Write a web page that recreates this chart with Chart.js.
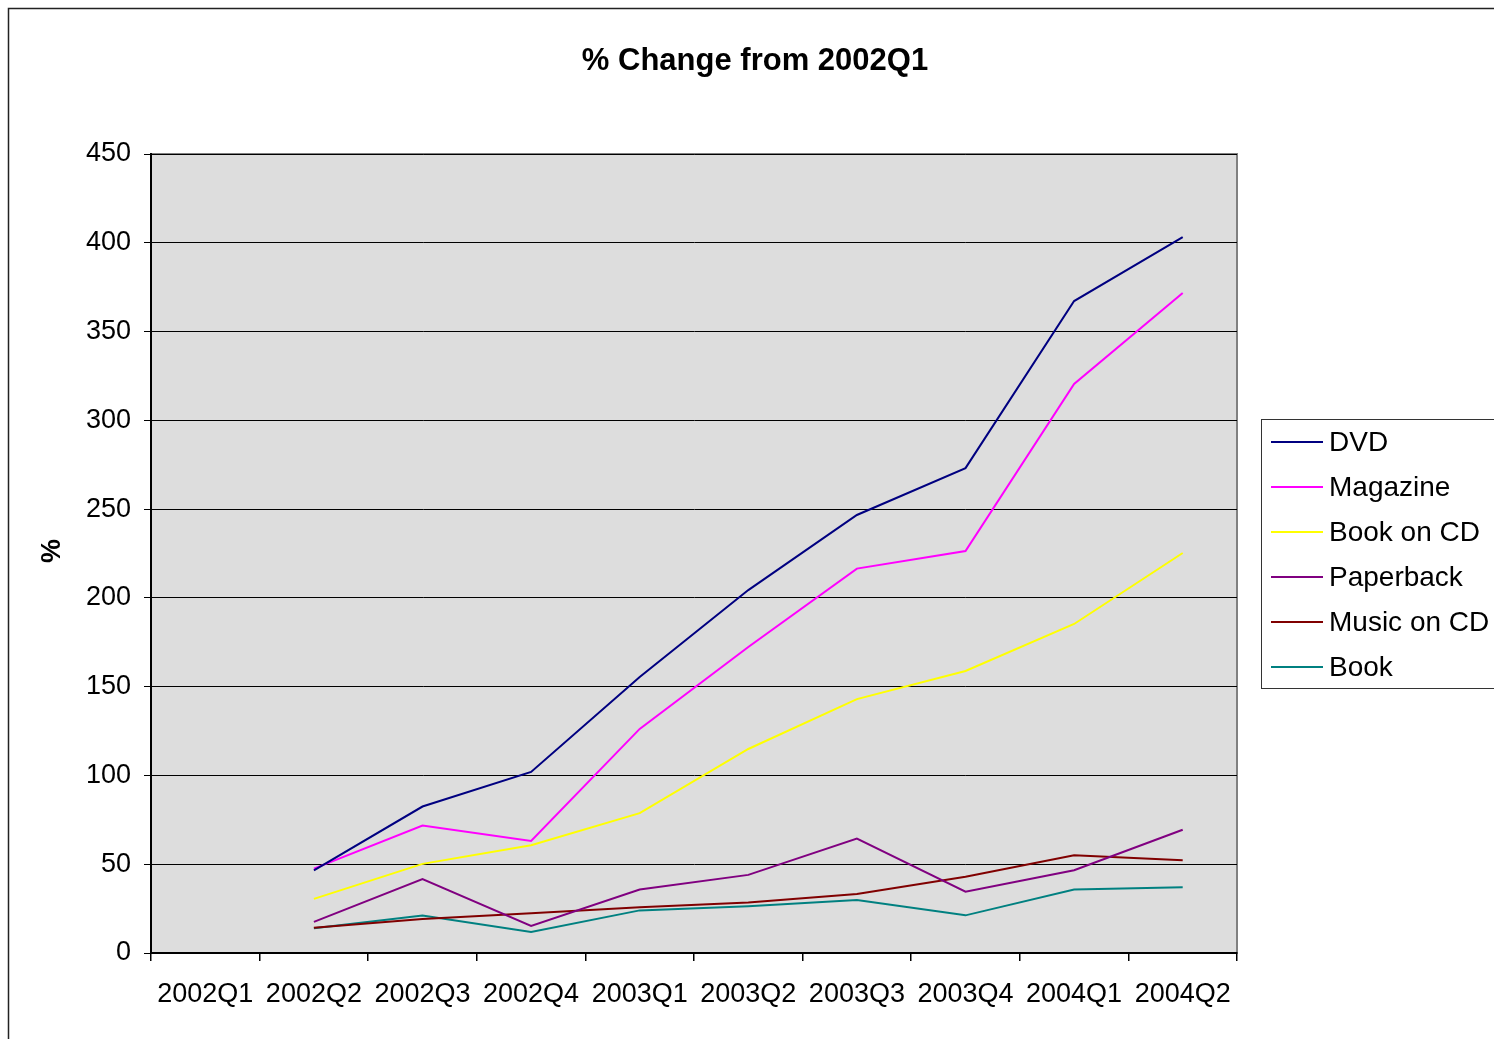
<!DOCTYPE html>
<html>
<head>
<meta charset="utf-8">
<script src="https://cdn.jsdelivr.net/npm/chart.js@4/dist/chart.umd.min.js"></script>
<style>
    html, body { margin: 0; padding: 0; background: #fff; }
    #wrap { width: 1494px; height: 1039px; position: relative; }
</style>
</head>
<body>
<div id="wrap"><canvas id="salesChart" width="1494" height="1039"></canvas></div>
<script>
// quarters on the category axis
const quarters = ['2002Q1', '2002Q2', '2002Q3', '2002Q4', '2003Q1', '2003Q2', '2003Q3', '2003Q4', '2004Q1', '2004Q2'];

// % change from 2002Q1 per product (no value for the base quarter)
const dvd = [null, 46.5, 82.5, 102, 155.4, 204.4, 246.7, 273.1, 367.2, 403.2];
const magazine = [null, 47.5, 71.8, 63.1, 126.2, 172.3, 216.5, 226.4, 320.5, 371.7];
const bookOnCd = [null, 30.5, 50.2, 60.7, 78.8, 114.9, 143, 158.8, 185.3, 225.3];
const paperback = [null, 17.5, 41.6, 15.3, 35.8, 44, 64.4, 34.5, 46.6, 69.4];
const musicOnCd = [null, 14.2, 19.2, 22.4, 25.8, 28.4, 33.2, 43, 55, 52.3];
const book = [null, 14, 21.1, 11.8, 24, 26.3, 29.8, 21.2, 35.8, 37];

// y axis ticks
const yTicks = [0, 50, 100, 150, 200, 250, 300, 350, 400, 450];

const FONT = '"Liberation Sans", Arial, sans-serif';

// 배경, 외곽선, 제목, 범례를 그리는 플러그인
const excelLook = {
    id: 'excelLook',
    beforeDraw(chart) {
        const ctx = chart.ctx;
        const a = chart.chartArea;
        ctx.save();
        ctx.fillStyle = '#ffffff';
        ctx.fillRect(0, 0, chart.width, chart.height);
        // outer frame
        ctx.strokeStyle = '#222222';
        ctx.lineWidth = 1.5;
        ctx.strokeRect(8.5, 8.5, chart.width + 100, chart.height + 100);
        // plot background
        ctx.fillStyle = '#dddddd';
        ctx.fillRect(a.left, a.top, a.right - a.left, a.bottom - a.top);
        ctx.strokeStyle = '#808080';
        ctx.lineWidth = 2;
        ctx.strokeRect(a.left, a.top, a.right - a.left, a.bottom - a.top);
        // title
        ctx.fillStyle = '#000';
        ctx.font = 'bold 31px ' + FONT;
        ctx.textAlign = 'center';
        ctx.textBaseline = 'middle';
        ctx.fillText('% Change from 2002Q1', 755, 61);
        // y axis title
        ctx.translate(53, 551);
        ctx.rotate(-Math.PI / 2);
        ctx.font = 'bold 27px ' + FONT;
        ctx.fillText('%', 0, 0);
        ctx.restore();
    },
    afterDraw(chart) {
        const ctx = chart.ctx;
        ctx.save();
        ctx.fillStyle = '#ffffff';
        ctx.fillRect(1261, 419, 300, 269);
        ctx.strokeStyle = '#333333';
        ctx.lineWidth = 1;
        ctx.strokeRect(1261.5, 419.5, 300, 269);
        ctx.font = '28px ' + FONT;
        ctx.textAlign = 'left';
        ctx.textBaseline = 'middle';
        chart.data.datasets.forEach((ds, i) => {
            const y = 442 + i * 45;
            ctx.strokeStyle = ds.borderColor;
            ctx.lineWidth = 2;
            ctx.beginPath();
            ctx.moveTo(1271, y);
            ctx.lineTo(1323, y);
            ctx.stroke();
            ctx.fillStyle = '#000';
            ctx.fillText(ds.label, 1329, y + 1);
        });
        ctx.restore();
    }
};

function series(label, data, color) {
    return {
        label: label,
        data: data,
        borderColor: color,
        backgroundColor: color,
        borderWidth: 2,
        pointRadius: 0,
        tension: 0,
        spanGaps: false
    };
}

const ctx = document.getElementById('salesChart').getContext('2d');
const chart = new Chart(ctx, {
    type: 'line',
    data: {
        labels: quarters,
        datasets: [
            series('DVD', dvd, '#000080'),
            series('Magazine', magazine, '#ff00ff'),
            series('Book on CD', bookOnCd, '#ffff00'),
            series('Paperback', paperback, '#800080'),
            series('Music on CD', musicOnCd, '#800000'),
            series('Book', book, '#008080')
        ]
    },
    options: {
        responsive: false,
        animation: false,
        events: [],
        layout: {
            padding: { left: 0, top: 154, right: 257, bottom: 0 }
        },
        plugins: {
            legend: { display: false },
            title: { display: false },
            tooltip: { enabled: false }
        },
        scales: {
            x: {
                type: 'category',
                offset: true,
                grid: {
                    offset: true,
                    drawOnChartArea: false,
                    drawTicks: true,
                    tickLength: 8,
                    color: '#000',
                    lineWidth: 1.5
                },
                border: { color: '#000', width: 2 },
                ticks: {
                    color: '#000',
                    font: { family: FONT, size: 27 },
                    padding: 17,
                    maxRotation: 0,
                    autoSkip: false
                },
                afterFit(scale) { scale.height = 86; }
            },
            y: {
                min: 0,
                max: 450,
                afterBuildTicks(scale) {
                    scale.ticks = yTicks.map(v => ({ value: v }));
                },
                grid: {
                    color: '#000',
                    lineWidth: 1,
                    tickLength: 7
                },
                border: { color: '#000', width: 2 },
                ticks: {
                    color: '#000',
                    font: { family: FONT, size: 27 },
                    padding: 13
                },
                afterFit(scale) { scale.width = 151; }
            }
        }
    },
    plugins: [excelLook]
});
</script>
</body>
</html>
